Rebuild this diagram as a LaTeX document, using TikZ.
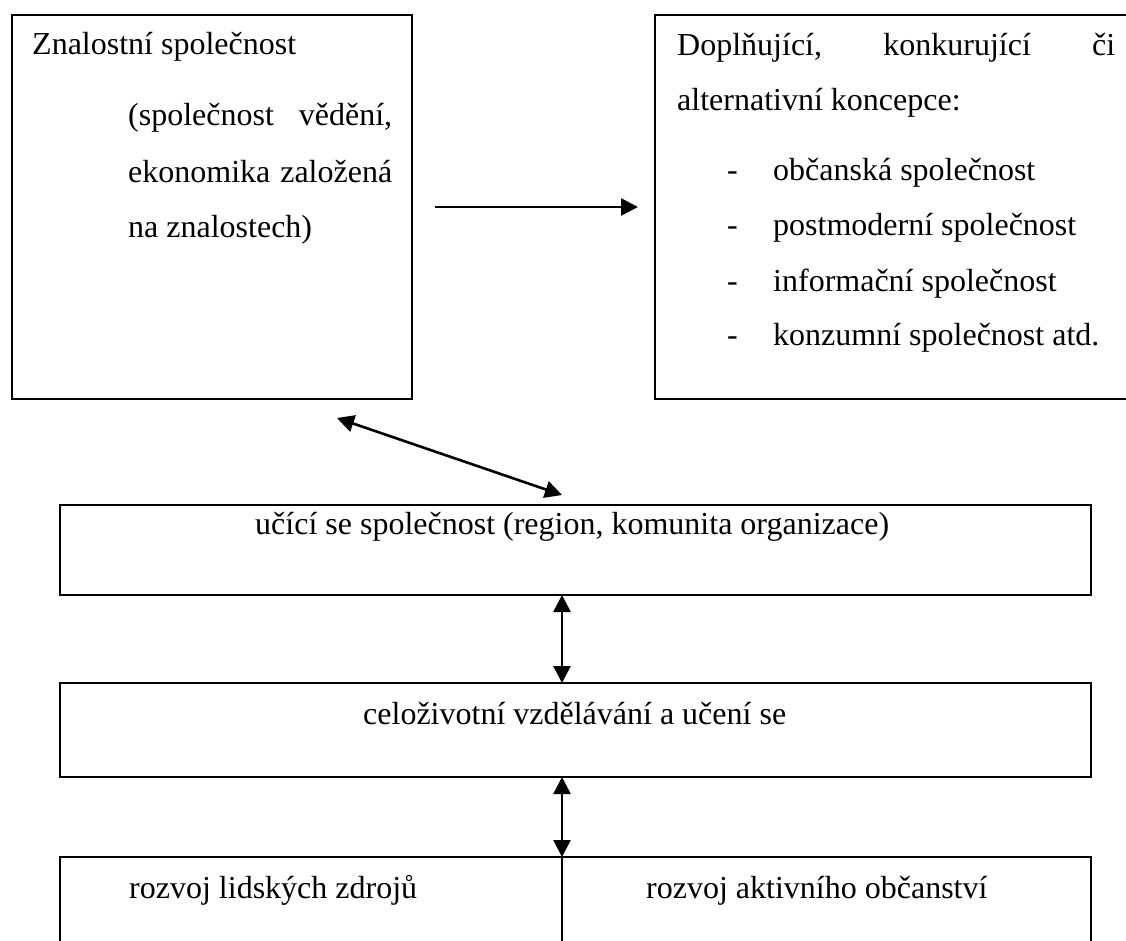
\documentclass[tikz,border=0pt]{standalone}
\usepackage{fontspec}
\setmainfont{Liberation Serif}
\usetikzlibrary{arrows.meta}
\begin{document}
\begin{tikzpicture}[x=1pt,y=-1pt,
  box/.style={draw, line width=1.8pt, inner sep=0pt, outer sep=0pt},
  txt/.style={inner sep=0pt, anchor=base west, font=\fontsize{32}{38}\selectfont},
  link/.style={line width=2.6pt, {Triangle[length=17pt,width=17pt]}-{Triangle[length=17pt,width=17pt]}},
  onelink/.style={line width=2.6pt, -{Triangle[length=17pt,width=17pt]}}]
\clip (0,0) rectangle (1126,940);
\fill[white] (0,0) rectangle (1126,940);
% boxes
\node[box, minimum width=400pt, minimum height=384pt] (know) at (212,207) {};
\node[box, minimum width=485pt, minimum height=384pt] (alt) at (897.5,207) {};
\node[box, minimum width=1031pt, minimum height=90pt] (learn) at (575.5,550) {};
\node[box, minimum width=1031pt, minimum height=94pt] (life) at (575.5,730) {};
\node[box, minimum width=502pt, minimum height=103pt] (hr) at (311,908.5) {};
\node[box, minimum width=529pt, minimum height=103pt] (cit) at (826.5,908.5) {};
% texts, left box
\node[txt] (k1) at (32,54) {Znalostní společnost};
\node[txt] (k2) at (128,125) {\hbox to 264pt{(společnost\hfill vědění,}};
\node[txt] (k3) at (128,182) {\hbox to 264pt{ekonomika\hfill založená}};
\node[txt] (k4) at (128,237) {na znalostech)};
% texts, right box
\node[txt] (a1) at (677,55) {\hbox to 438pt{Doplňující,\hfill konkurující\hfill či}};
\node[txt] (a2) at (677,110) {alternativní koncepce:};
\node[txt] (d1) at (727,180) {-};
\node[txt] (i1) at (773,180) {občanská společnost};
\node[txt] (d2) at (727,235) {-};
\node[txt] (i2) at (773,235) {postmoderní společnost};
\node[txt] (d3) at (727,291) {-};
\node[txt] (i3) at (773,291) {informační společnost};
\node[txt] (d4) at (727,345) {-};
\node[txt] (i4) at (773,345) {konzumní společnost atd.};
% lower boxes
\node[txt] (l1) at (255,534) {učící se společnost (region, komunita organizace)};
\node[txt] (v1) at (363,724) {celoživotní vzdělávání a učení se};
\node[txt] (h1) at (129,898) {rozvoj lidských zdrojů};
\node[txt] (c1) at (646,898) {rozvoj aktivního občanství};
% connectors
\draw[onelink, shorten <=23pt, shorten >=17pt] (know.east) -- (alt.west);
\coordinate (dg1) at (337,418);
\coordinate (dg2) at (562,495);
\draw[link] (dg1) -- (dg2);
\coordinate (vx) at (562,0);
\draw[link] (vx |- learn.south) -- (vx |- life.north);
\draw[link] (vx |- life.south) -- (vx |- hr.north);
\end{tikzpicture}
\end{document}
